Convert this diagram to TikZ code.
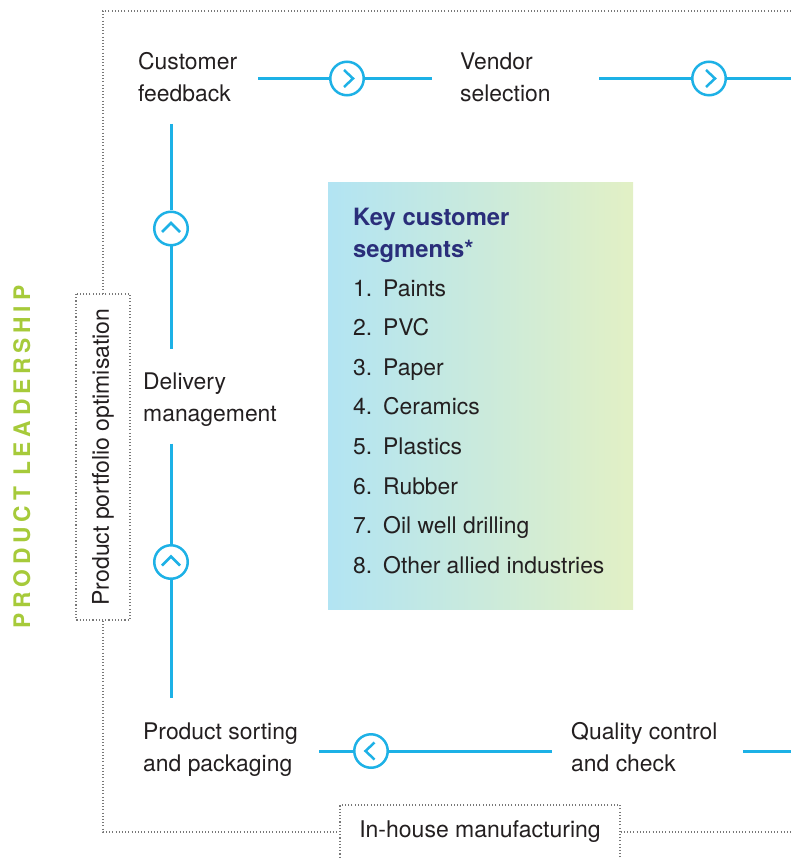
\documentclass[tikz,border=0pt]{standalone}
\usepackage{fontspec}
\setmainfont{TeX Gyre Heros}
\newfontfamily\spacedfont[LetterSpace=21]{TeX Gyre Heros}
\definecolor{flow}{RGB}{29,177,230}
\definecolor{ink}{RGB}{35,31,32}
\definecolor{navy}{RGB}{42,46,122}
\definecolor{lime}{RGB}{166,202,58}
\definecolor{dotgray}{RGB}{120,120,120}
\definecolor{gleft}{RGB}{178,228,243}
\definecolor{gmid}{RGB}{180,232,226}
\definecolor{gright}{RGB}{226,240,197}
\begin{document}
\begin{tikzpicture}[x=1pt,y=-1pt,
  lbl/.style={anchor=north west, inner sep=0pt, align=left, text=ink, font=\fontsize{22.9}{32}\selectfont},
  conn/.style={draw=flow, line width=3pt},
  circ/.style={circle, draw=flow, line width=2.5pt, minimum size=33.5pt, inner sep=0pt, fill=white},
  chev/.style={draw=flow, line width=2.5pt},
  frame/.style={draw=dotgray, line width=1.1pt, dash pattern=on 1.1pt off 2.1pt},
  dbox/.style={frame, inner sep=0pt, text=ink, font=\fontsize{23}{26}\selectfont},
  item/.style={anchor=base west, inner sep=0pt, text=ink, font=\fontsize{22.9}{32}\selectfont},
]
\useasboundingbox (0,0) rectangle (791,858);

% gradient panel
\node[shade, left color=gleft, middle color=gmid, right color=gright,
      minimum width=305pt, minimum height=427pt, inner sep=0pt] (seg) at (480.5,396) {};
\node[anchor=north west, inner sep=0pt, align=left, text=navy,
      font=\bfseries\fontsize{23.8}{32}\selectfont] (title) at (353,202.6) {\strut Key customer\\segments*};
\foreach \t [count=\i] in {Paints,PVC,Paper,Ceramics,Plastics,Rubber,Oil well drilling,Other allied industries}
  \node[item] (item\i) at (353,{296+(\i-1)*39.6}) {\makebox[30pt][l]{\i.}\t};

% frame
\node[dbox, rotate=90, minimum width=326pt, minimum height=54pt] (ppo) at (103,457) {Product portfolio optimisation};
\node[dbox, minimum width=280pt, minimum height=54pt] (ih) at (480,832) {In-house manufacturing};
\coordinate (frame-tr) at (791,11);
\coordinate (frame-tl) at (103,11);
\coordinate (frame-bl) at (103,832);
\coordinate (frame-br) at (791,832);
\draw[frame] (frame-tr) -- (frame-tl) -- (ppo.east);
\draw[frame] (ppo.west) -- (frame-bl) -- (ih.west);
\draw[frame] (ih.east) -- (frame-br);

\node[rotate=90, anchor=base, text=lime, inner sep=0pt,
      font=\spacedfont\bfseries\fontsize{22.8}{27}\selectfont] (pl) at (30,457) {PRODUCT LEADERSHIP};

% step labels
\node[lbl] (cf) at (138,47.1) {\strut Customer\\feedback};
\node[lbl] (vs) at (460,47.1) {\strut Vendor\\selection};
\node[lbl] (dm) at (143,367.1) {\strut Delivery\\management};
\node[lbl] (ps) at (143,717.1) {\strut Product sorting\\and packaging};
\node[lbl] (qc) at (571,717.1) {\strut Quality control\\and check};

% circles
\node[circ] (c1) at (347,78.5) {};
\node[circ] (c2) at (709,78.5) {};
\node[circ] (c3) at (171,228.5) {};
\node[circ] (c4) at (171,562) {};
\node[circ] (c5) at (371,751) {};

% connector ends
\coordinate (cf-out) at (258,78.5);
\coordinate (vs-in) at (432,78.5);
\coordinate (vs-out) at (599,78.5);
\coordinate (edge-top) at (791,78.5);
\coordinate (cf-down) at (171,124);
\coordinate (dm-up) at (171,349);
\coordinate (dm-down) at (171,443.5);
\coordinate (ps-up) at (171,697.5);
\coordinate (ps-out) at (319,751);
\coordinate (qc-in) at (552,751);
\coordinate (qc-out) at (743,751);
\coordinate (edge-bot) at (791,751);

\draw[conn] (cf-out) -- (c1) -- (vs-in);
\draw[conn] (vs-out) -- (c2) -- (edge-top);
\draw[conn] (cf-down) -- (c3) -- (dm-up);
\draw[conn] (dm-down) -- (c4) -- (ps-up);
\draw[conn] (qc-in) -- (c5) -- (ps-out);
\draw[conn] (qc-out) -- (edge-bot);

% chevrons
\foreach \c in {c1,c2}
  \draw[chev] ([shift={(-3,-8.5)}]\c.center) -- ([shift={(6,0)}]\c.center) -- ([shift={(-3,8.5)}]\c.center);
\foreach \c in {c3,c4}
  \draw[chev] ([shift={(-9,3.5)}]\c.center) -- ([shift={(0,-5.5)}]\c.center) -- ([shift={(9,3.5)}]\c.center);
\draw[chev] ([shift={(3.5,-8.5)}]c5.center) -- ([shift={(-5.5,0)}]c5.center) -- ([shift={(3.5,8.5)}]c5.center);
\end{tikzpicture}
\end{document}
